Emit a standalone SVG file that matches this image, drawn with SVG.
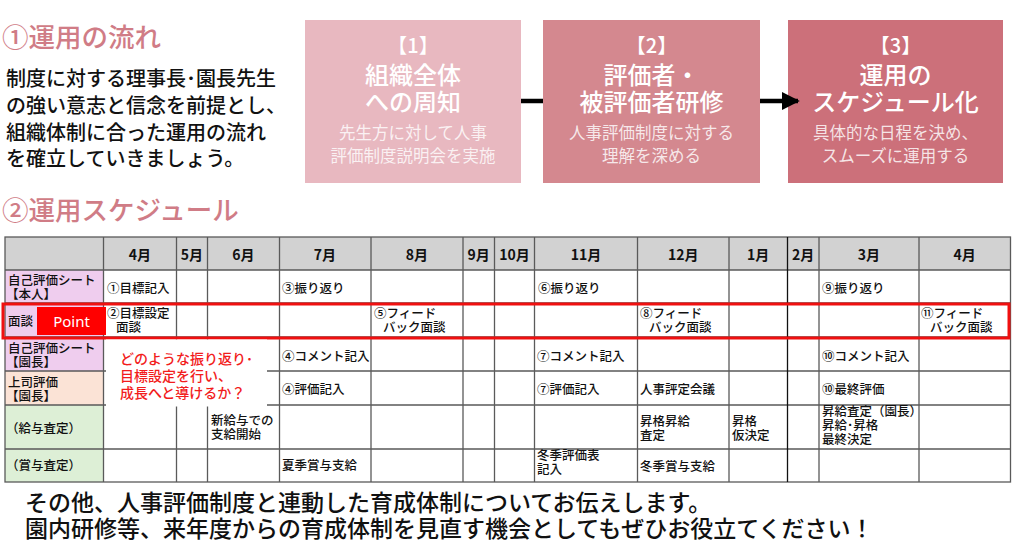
<svg xmlns="http://www.w3.org/2000/svg" width="1023" height="559" viewBox="0 0 1023 559">
<style>
text{font-family:"Noto Sans CJK JP","Noto Sans",sans-serif;}
.h1{font-size:26.5px;fill:#D07C86;font-weight:500;}
.lead{font-size:20px;fill:#111;font-weight:500;}
.bn{font-size:20px;fill:#fff;font-weight:500;text-anchor:middle;}
.bt{font-size:24px;fill:#fff;font-weight:500;text-anchor:middle;}
.bs{font-size:16.5px;fill:#fff;fill-opacity:0.82;text-anchor:middle;}
.mh{font-size:14px;fill:#111;font-weight:700;text-anchor:middle;}
.c{font-size:12.5px;fill:#111;font-weight:500;}
.rc{font-size:14px;fill:#F21C1C;font-weight:500;}
.pt{font-family:"Noto Sans","Open Sans",sans-serif;font-size:15px;fill:#fff;text-anchor:middle;}
.ft{font-size:23px;fill:#111;font-weight:500;}
.g{stroke:#5a5a5a;stroke-width:1.3;fill:none;}
</style>
<defs>
<marker id="ah" markerWidth="4" markerHeight="4" refX="3.6" refY="2" orient="auto" markerUnits="strokeWidth">
<path d="M0,0 L4,2 L0,4 Z" fill="#000"/>
</marker>
</defs>
<rect width="1023" height="559" fill="#fff"/>

<g id="section1">
<text class="h1" x="2" y="47">①運用の流れ</text>
<text class="lead" x="6" y="86">制度に対する理事長･園長先生</text>
<text class="lead" x="6" y="113">の強い意志と信念を前提とし、</text>
<text class="lead" x="6" y="140">組織体制に合った運用の流れ</text>
<text class="lead" x="6" y="166">を確立していきましょう。</text>
</g>

<g id="box1">
<rect x="305" y="20" width="216" height="163" fill="#E8B8C0"/>
<text class="bn" x="413" y="53">【1】</text>
<text class="bt" x="413" y="84">組織全体</text>
<text class="bt" x="413" y="111">への周知</text>
<text class="bs" x="413" y="139">先生方に対して人事</text>
<text class="bs" x="413" y="162">評価制度説明会を実施</text>
</g>
<g id="box2">
<rect x="543" y="20" width="217" height="163" fill="#D4888F"/>
<text class="bn" x="651.5" y="53">【2】</text>
<text class="bt" x="651.5" y="84">評価者・</text>
<text class="bt" x="651.5" y="111">被評価者研修</text>
<text class="bs" x="651.5" y="139">人事評価制度に対する</text>
<text class="bs" x="651.5" y="162">理解を深める</text>
</g>
<g id="box3">
<rect x="788" y="20" width="215" height="163" fill="#CC707A"/>
<text class="bn" x="895.5" y="53">【3】</text>
<text class="bt" x="895.5" y="84">運用の</text>
<text class="bt" x="895.5" y="111">スケジュール化</text>
<text class="bs" x="895.5" y="139">具体的な日程を決め、</text>
<text class="bs" x="895.5" y="162">スムーズに運用する</text>
</g>

<g id="connectors">
<line x1="521" y1="101" x2="543" y2="101" stroke="#000" stroke-width="4.5"/>
<line x1="760" y1="101" x2="798" y2="101" stroke="#000" stroke-width="4.5" marker-end="url(#ah)"/>
</g>

<g id="section2">
<text class="h1" x="2" y="220">②運用スケジュール</text>
</g>

<g id="table">
<rect x="5" y="237" width="1005.5" height="33" fill="#D2D2D2"/>
<rect x="5" y="270" width="98.5" height="101" fill="#EFCDEE"/>
<rect x="5" y="371" width="98.5" height="34" fill="#FBE3D6"/>
<rect x="5" y="405" width="98.5" height="77" fill="#DDEFD6"/>
<rect x="5" y="237" width="1005.5" height="245" class="g"/>
<path class="g" d="M5 270H1010.5M5 303H1010.5M5 337H1010.5M5 371H1010.5M5 405H1010.5M5 449H1010.5
M103.5 237V482M176.5 237V482M207.5 237V482M279.5 237V482M371 237V482M463 237V482M494.5 237V482M534.5 237V482M637.5 237V482M729 237V482M819 237V482M919 237V482"/>
<line x1="787.5" y1="237" x2="787.5" y2="482" stroke="#111" stroke-width="1.3"/>

<text class="mh" x="140" y="260">4月</text>
<text class="mh" x="192" y="260">5月</text>
<text class="mh" x="243.5" y="260">6月</text>
<text class="mh" x="325" y="260">7月</text>
<text class="mh" x="417" y="260">8月</text>
<text class="mh" x="478.7" y="260">9月</text>
<text class="mh" x="514.5" y="260">10月</text>
<text class="mh" x="586" y="260">11月</text>
<text class="mh" x="683.2" y="260">12月</text>
<text class="mh" x="758.2" y="260">1月</text>
<text class="mh" x="803.2" y="260">2月</text>
<text class="mh" x="869" y="260">3月</text>
<text class="mh" x="964.7" y="260">4月</text>

<text class="c" x="8" y="285">自己評価シート</text>
<text class="c" x="6" y="299">【本人】</text>
<text class="c" x="107" y="293">①目標記入</text>
<text class="c" x="282" y="293">③振り返り</text>
<text class="c" x="538" y="293">⑥振り返り</text>
<text class="c" x="822" y="293">⑨振り返り</text>

<text class="c" x="8" y="326">面談</text>
<text class="c" x="107" y="318">②目標設定</text>
<text class="c" x="116" y="332">面談</text>
<text class="c" x="374" y="318">⑤フィード</text>
<text class="c" x="383" y="332">バック面談</text>
<text class="c" x="640" y="318">⑧フィード</text>
<text class="c" x="649" y="332">バック面談</text>
<text class="c" x="921" y="318">⑪フィード</text>
<text class="c" x="930" y="332">バック面談</text>

<text class="c" x="8" y="353">自己評価シート</text>
<text class="c" x="6" y="367">【園長】</text>
<text class="c" x="282" y="361">④コメント記入</text>
<text class="c" x="537" y="361">⑦コメント記入</text>
<text class="c" x="822" y="361">⑩コメント記入</text>

<text class="c" x="8" y="387">上司評価</text>
<text class="c" x="6" y="401">【園長】</text>
<text class="c" x="282" y="394">④評価記入</text>
<text class="c" x="537" y="394">⑦評価記入</text>
<text class="c" x="640" y="394">人事評定会議</text>
<text class="c" x="822" y="394">⑩最終評価</text>

<text class="c" x="6" y="433">（給与査定）</text>
<text class="c" x="211" y="425">新給与での</text>
<text class="c" x="211" y="439">支給開始</text>
<text class="c" x="640" y="426">昇格昇給</text>
<text class="c" x="640" y="440">査定</text>
<text class="c" x="732" y="426">昇格</text>
<text class="c" x="732" y="440">仮決定</text>
<text class="c" x="822" y="416">昇給査定（園長）</text>
<text class="c" x="822" y="430">昇給･昇格</text>
<text class="c" x="822" y="444">最終決定</text>

<text class="c" x="6" y="470">（賞与査定）</text>
<text class="c" x="282" y="470">夏季賞与支給</text>
<text class="c" x="537" y="460">冬季評価表</text>
<text class="c" x="537" y="474">記入</text>
<text class="c" x="640" y="471">冬季賞与支給</text>
</g>

<g id="point-highlight">
<rect x="3" y="304" width="1006" height="34" fill="none" stroke="#F01010" stroke-width="3"/>
<rect x="37" y="307" width="69" height="28" fill="#FF0000"/>
<text class="pt" x="71.5" y="327">Point</text>
</g>

<g id="note">
<rect x="106" y="339.5" width="161" height="67" fill="#fff"/>
<text class="rc" x="120" y="364">どのような振り返り･</text>
<text class="rc" x="120" y="381">目標設定を行い、</text>
<text class="rc" x="120" y="398">成長へと導けるか？</text>
</g>

<g id="footer">
<text class="ft" x="25" y="511">その他、人事評価制度と連動した育成体制についてお伝えします。</text>
<text class="ft" x="25" y="537">園内研修等、来年度からの育成体制を見直す機会としてもぜひお役立てください！</text>
</g>
</svg>
